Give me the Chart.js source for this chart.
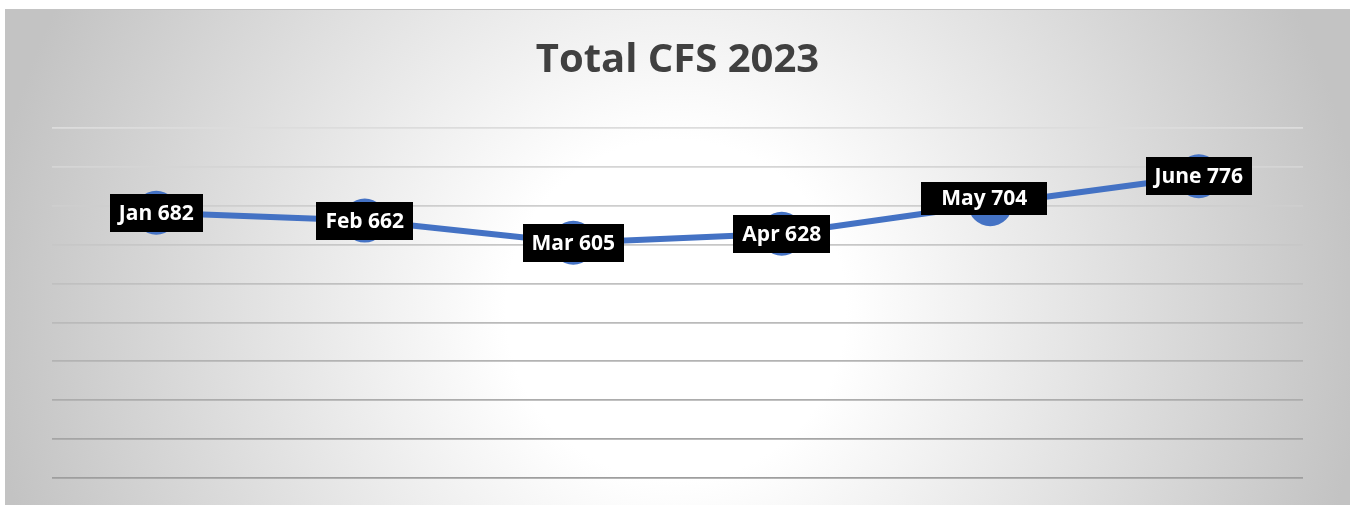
<!DOCTYPE html>
<html>
<head>
<meta charset="utf-8">
<script src="https://cdn.jsdelivr.net/npm/chart.js@4"></script>
<style>
  html, body { margin: 0; padding: 0; background: #ffffff; width: 1352px; height: 506px; overflow: hidden; }
  #panel {
    position: absolute; left: 5px; top: 9px; width: 1345px; height: 496px;
    background: radial-gradient(circle at 671px 300px, #ffffff 0px, #ffffff 170px, #c3c3c3 690px);
    border-top: 1px solid #c4c4c4;
    box-sizing: border-box;
  }
  #chart { display: block; }
</style>
</head>
<body>
<div id="panel"><canvas id="chart"></canvas></div>
<script>
// ---- data ----
const categories = ['Jan', 'Feb', 'Mar', 'Apr', 'May', 'June'];
const cfsValues = [682, 662, 605, 628, 704, 776];
const chartTitle = 'Total CFS 2023';
const yMin = 0;
const yMax = 900;
const yStep = 100;

// ---- label box styling (per point) ----
const labelStyle = {
  padX:   [9, 9, 9, 9, 20, 9],
  height: [38, 38, 38, 38, 33, 38],
  dx:     [0, 0, 0, 0, -6, 0],
  dy:     [0, 0, 0, 0, -6, 0]
};

const boxLabels = {
  id: 'boxLabels',
  afterDatasetsDraw(chart) {
    const ctx = chart.ctx;
    const meta = chart.getDatasetMeta(0);
    ctx.save();
    ctx.font = 'bold 21px "Open Sans", sans-serif';
    ctx.textAlign = 'center';
    ctx.textBaseline = 'middle';
    meta.data.forEach((pt, i) => {
      const text = categories[i] + ' ' + chart.data.datasets[0].data[i];
      const w = ctx.measureText(text).width + 2 * labelStyle.padX[i];
      const h = labelStyle.height[i];
      const cx = pt.x + labelStyle.dx[i];
      const cy = pt.y + labelStyle.dy[i];
      ctx.fillStyle = '#000000';
      ctx.fillRect(Math.round(cx - w / 2), Math.round(cy - h / 2), Math.round(w), h);
      ctx.fillStyle = '#ffffff';
      ctx.fillText(text, cx, cy + 1);
    });
    ctx.restore();
  }
};

new Chart(document.getElementById('chart'), {
  type: 'line',
  data: {
    labels: categories,
    datasets: [{
      data: cfsValues,
      borderColor: '#4472C4',
      backgroundColor: '#4472C4',
      borderWidth: 6,
      pointRadius: 22,
      pointHoverRadius: 22,
      pointBackgroundColor: '#4472C4',
      pointBorderWidth: 0,
      tension: 0,
      fill: false
    }]
  },
  options: {
    responsive: true,
    maintainAspectRatio: false,
    animation: false,
    layout: { padding: { left: 47, right: 47, top: 0, bottom: 27 } },
    plugins: {
      legend: { display: false },
      tooltip: { enabled: false },
      title: {
        display: true,
        text: chartTitle,
        color: '#404040',
        font: { family: '"Open Sans", sans-serif', size: 40, weight: 'bold', lineHeight: 1.2 },
        padding: { top: 27, bottom: 43 }
      }
    },
    scales: {
      x: {
        display: false,
        offset: true
      },
      y: {
        display: true,
        min: yMin,
        max: yMax,
        ticks: { display: false, stepSize: yStep },
        border: { display: false },
        grid: {
          drawTicks: false,
          lineWidth: 1.8,
          color: (c) => {
            const t = (c.tick ? c.tick.value : 0) / yMax;
            const g = Math.round(158 + t * 62);
            return 'rgb(' + g + ',' + g + ',' + g + ')';
          }
        }
      }
    }
  },
  plugins: [boxLabels]
});
</script>
</body>
</html>
